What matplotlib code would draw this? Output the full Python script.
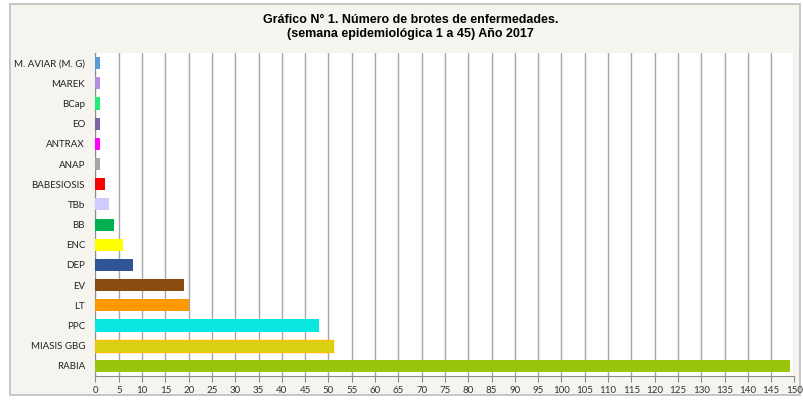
import matplotlib.pyplot as plt
from matplotlib.patches import Rectangle

diseases = ['RABIA', 'MIASIS GBG', 'PPC', 'LT', 'EV', 'DEP', 'ENC', 'BB', 'TBb',
            'BABESIOSIS', 'ANAP', 'ANTRAX', 'EO', 'BCap', 'MAREK', 'M. AVIAR (M. G)']
outbreaks = [149, 51, 48, 20, 19, 8, 6, 4, 3, 2, 1, 1, 1, 1, 1, 1]
colors = ['#99c60a', '#d8d010', '#0ae6e0', '#ff9900', '#8b4c12', '#2f5597', '#ffff00',
          '#00b050', '#ccccff', '#ff0000', '#a6a6a6', '#ff00ff', '#8064a2', '#22ee77',
          '#b48ee0', '#5b9bd5']
edges = ['none', '#ffc000'] + ['none'] * 14
xticks = list(range(0, 151, 5))

fig = plt.figure(figsize=(8.04, 4.05), dpi=100)
fig.patch.set_facecolor('white')
fig.patches.append(Rectangle((10 / 804, 1 - 395 / 405), 790 / 804, 391 / 405,
                             transform=fig.transFigure, facecolor='#f5f4ee',
                             edgecolor='#bdbdbd', linewidth=1.2, zorder=-10))

ax = fig.add_axes([95.5 / 804, 1 - 376 / 405, 699 / 804, 323 / 405])
ax.set_facecolor('white')
y = range(len(diseases))
ax.barh(y, outbreaks, height=0.6, color=colors, edgecolor=edges, linewidth=1, zorder=3)

ax.set_xlim(0, 150)
ax.set_ylim(-0.5, len(diseases) - 0.5)
ax.set_xticks(xticks)
ax.set_xticklabels([str(t) for t in xticks], fontsize=7, family='Lato', color='#333333')
ax.set_yticks(list(y))
ax.set_yticklabels(diseases, fontsize=7, family='Lato', color='#222222')
ax.xaxis.grid(True, color='#a6a6a6', linewidth=1, zorder=0)
ax.set_axisbelow(True)
ax.tick_params(axis='y', length=0, pad=7.5)
ax.tick_params(axis='x', length=4, color='#8c8c8c', pad=3)
for s in ['top', 'right']:
    ax.spines[s].set_visible(False)
ax.spines['bottom'].set_color('#8c8c8c')
ax.spines['left'].set_color('#8c8c8c')

fig.text(0.511, 1 - 20 / 405, 'Gráfico N° 1. Número de brotes de enfermedades.',
         ha='center', va='center', fontsize=9, fontweight='bold', family='Liberation Sans')
fig.text(0.511, 1 - 34 / 405, '(semana epidemiológica 1 a 45) Año 2017',
         ha='center', va='center', fontsize=9, fontweight='bold', family='Liberation Sans')

fig.savefig('out.png', dpi=100, facecolor=fig.get_facecolor())
